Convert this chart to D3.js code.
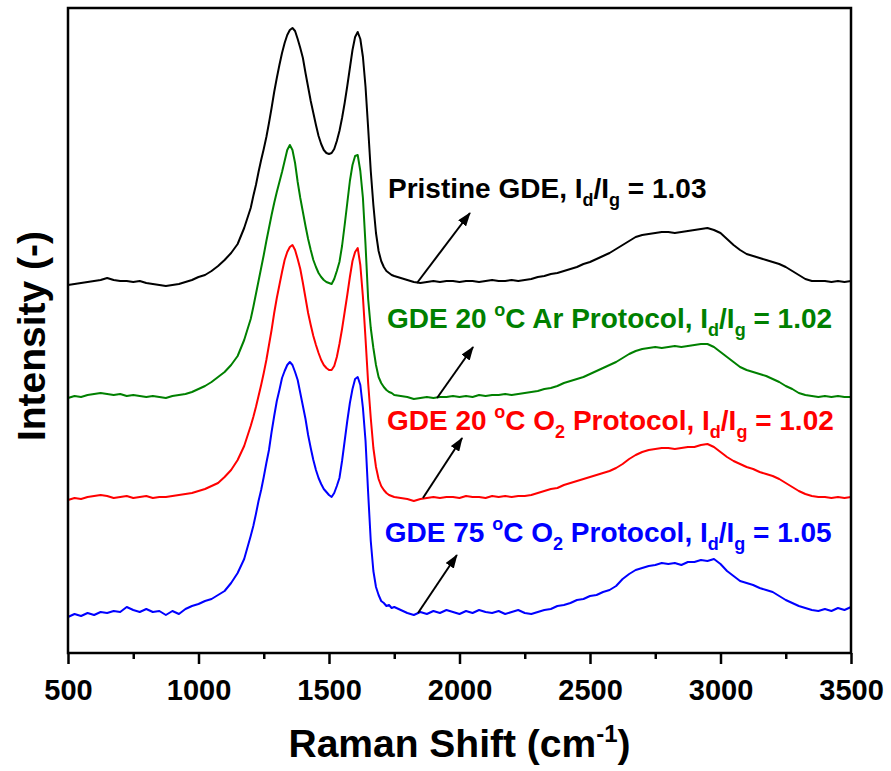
<!DOCTYPE html>
<html>
<head>
<meta charset="utf-8">
<script src="https://cdn.jsdelivr.net/npm/d3@7"></script>
<style>
  html, body { margin: 0; padding: 0; background: #fff; }
  svg { display: block; font-family: "Liberation Sans", Arial, sans-serif; }
  text { white-space: pre; }
</style>
</head>
<body>
<svg id="chart" width="891" height="771"></svg>
<script>
// Raman shift sampling positions (cm^-1), finer across the D and G bands
const wavenumber = [
  500,525,550,575,600,625,650,675,700,725,750,775,800,825,850,875,900,925,950,975,1000,1025,1050,1075,1100,1125,1150,1175,
  1200,1210,1220,1230,1240,1250,1260,1270,1280,1290,1300,1310,1320,1330,1340,1350,1360,1370,1380,1390,1400,1410,1420,1430,1440,1450,1460,1470,1480,1490,1500,
  1510,1520,1530,1540,1550,1560,1570,1580,1590,1600,1610,1620,1630,1640,1650,1660,1670,1680,1690,1700,1710,1720,1730,1740,1750,
  1775,1800,1825,1850,1875,1900,1925,1950,1975,2000,2025,2050,2075,2100,2125,2150,2175,2200,2225,2250,
  2275,2300,2325,2350,2375,2400,2425,2450,2475,2500,2525,2550,2575,2600,2625,2650,2675,2700,2725,2750,
  2775,2800,2825,2850,2875,2900,2925,2950,2975,3000,3025,3050,3075,3100,3125,3150,3175,3200,3225,3250,
  3275,3300,3325,3350,3375,3400,3425,3450,3475,3500
];

// Stacked intensities (a.u., offset for display)
const pristine = [
  368,369,370,371,372,373,375,373,372,372,371,372,370,369,368,367,368,369,371,373,376,378,382,387,393,400,409,425,
  445,457,468,481,493,504,516,530,545,561,575,588,600,610,618,623,625,622,614,605,595,580,566,552,540,528,517,509,503,500,499,
  500,504,512,522,535,550,567,585,603,616,621,614,596,566,525,482,448,420,402,392,386,382,380,378,377,
  375,373,371,370,371,372,371,372,372,371,372,372,371,372,373,372,372,373,372,373,
  374,376,377,379,380,382,384,386,389,391,394,397,400,404,408,412,416,418,419,420,
  421,421,420,421,422,423,424,425,423,420,414,408,403,399,397,395,393,391,389,386,
  382,378,374,372,372,372,371,372,371,372
];
const ar20 = [
  255,257,256,258,259,260,259,258,259,257,258,257,256,257,256,255,257,258,259,261,264,267,271,276,281,288,297,313,
  334,346,359,372,385,398,412,425,438,450,461,471,481,492,503,508,503,490,471,455,441,427,414,403,393,386,380,376,373,371,370,
  369,374,382,391,407,428,450,472,488,497,498,482,455,408,354,325,305,288,276,270,266,263,261,260,258,
  257,256,254,255,256,255,256,256,257,256,257,256,258,257,258,258,259,258,259,260,
  261,262,264,265,267,270,272,274,276,279,282,285,288,291,295,299,302,304,305,306,
  305,306,307,306,307,308,309,309,306,301,296,291,286,283,281,279,277,274,271,267,
  264,260,258,257,256,257,256,257,256,256
];
const o2_20 = [
  153,155,154,156,157,158,157,155,156,157,155,156,157,155,156,156,157,158,159,160,162,164,167,170,176,183,193,207,
  227,236,246,257,268,280,293,308,323,340,355,368,381,393,401,406,408,403,394,384,370,355,340,328,317,308,300,293,288,285,283,
  283,287,296,309,324,341,358,376,392,401,405,388,356,314,270,235,205,186,174,167,163,160,158,157,156,
  155,154,152,154,155,156,155,156,156,155,157,156,156,155,157,156,157,156,157,157,
  158,160,162,164,165,168,170,172,174,176,178,180,182,185,189,194,198,201,203,204,
  205,205,204,205,206,206,208,209,206,201,196,192,189,186,184,181,179,177,174,170,
  166,162,159,157,156,156,155,156,155,156
];
const o2_75 = [
  36,39,37,40,38,41,40,42,41,46,43,41,44,41,42,38,42,39,44,47,49,52,54,58,62,70,80,94,
  117,127,139,152,163,176,190,203,221,237,252,263,275,282,288,291,288,281,273,260,247,234,218,205,193,183,175,169,164,161,158,
  156,160,167,175,192,212,232,250,264,274,276,268,245,212,160,112,82,66,58,52,50,47,48,45,46,
  43,40,38,41,39,42,40,43,41,39,42,40,43,41,40,42,39,41,43,40,
  39,41,43,44,47,48,50,53,54,57,58,61,63,67,74,79,83,85,87,88,
  90,89,90,88,91,91,93,92,94,89,82,77,72,70,68,65,63,61,57,53,
  50,47,45,43,42,44,42,45,43,46
];

const seriesNames = ["Pristine GDE", "GDE 20 \u00B0C Ar Protocol", "GDE 20 \u00B0C O2 Protocol", "GDE 75 \u00B0C O2 Protocol"];
const seriesColors = ["#000000", "#008000", "#ff0000", "#0000ff"];
const ratioLabels = ["1.03", "1.02", "1.02", "1.05"];

const xTicks = [500, 1000, 1500, 2000, 2500, 3000, 3500];
const xMinorTicks = [750, 1250, 1750, 2250, 2750, 3250];

const series = [pristine, ar20, o2_20, o2_75];

// Layout
const W = 891, H = 771;
const plot = { left: 68, right: 851, top: 8, bottom: 653 };

const svg = d3.select("#chart");
const x = d3.scaleLinear().domain([500, 3500]).range([plot.left, plot.right]);
const y = d3.scaleLinear().domain([0, 645]).range([plot.bottom, plot.top]);

// Spectra
const line = d3.line()
  .x((d, i) => x(wavenumber[i]))
  .y(d => y(d))
  .curve(d3.curveLinear);

svg.append("g").attr("class", "spectra")
  .selectAll("path")
  .data(series)
  .join("path")
  .attr("d", d => line(d))
  .attr("fill", "none")
  .attr("stroke", (d, i) => seriesColors[i])
  .attr("stroke-width", 2)
  .attr("stroke-linejoin", "round");

// Frame
svg.append("rect")
  .attr("x", plot.left).attr("y", plot.top)
  .attr("width", plot.right - plot.left).attr("height", plot.bottom - plot.top)
  .attr("fill", "none").attr("stroke", "#000").attr("stroke-width", 2.5);

// Bottom axis: major ticks with labels, minor ticks without
const xAxis = svg.append("g")
  .attr("transform", `translate(0,${plot.bottom})`)
  .call(d3.axisBottom(x).tickValues(xTicks).tickSize(11).tickPadding(15).tickFormat(d3.format("d")));
xAxis.select(".domain").remove();
xAxis.selectAll("line").attr("stroke", "#000").attr("stroke-width", 2.5);
xAxis.selectAll("text")
  .attr("fill", "#000")
  .style("font-size", "29px").style("font-weight", "bold")
  .style("font-family", "'Liberation Sans', Arial, sans-serif");

const xMinor = svg.append("g")
  .attr("transform", `translate(0,${plot.bottom})`)
  .call(d3.axisBottom(x).tickValues(xMinorTicks).tickSize(6).tickFormat(""));
xMinor.select(".domain").remove();
xMinor.selectAll("line").attr("stroke", "#000").attr("stroke-width", 2.5);

// Axis titles
const xTitle = svg.append("text")
  .attr("x", (plot.left + plot.right) / 2).attr("y", 757)
  .attr("text-anchor", "middle")
  .style("font-size", "39px").style("font-weight", "bold");
xTitle.append("tspan").text("Raman Shift (cm");
xTitle.append("tspan").attr("dy", -15).style("font-size", "24px").text("-1");
xTitle.append("tspan").attr("dy", 15).text(")");

svg.append("text")
  .attr("transform", `translate(45,336) rotate(-90)`)
  .attr("text-anchor", "middle")
  .style("font-size", "39px").style("font-weight", "bold")
  .text("Intensity (-)");

// Annotations: label text position (cm^-1, a.u.) and arrow from trace to label
const annotations = [
  { lx: 1726, ly: 455, x0: 1837, y0: 370, x1: 2040, y1: 440, sub2: false, name: "Pristine GDE" },
  { lx: 1722, ly: 325, x0: 1914, y0: 255, x1: 2052, y1: 306, sub2: false, name: "GDE 20 |C Ar Protocol" },
  { lx: 1722, ly: 223, x0: 1860, y0: 155, x1: 2010, y1: 215, sub2: true,  name: "GDE 20 |C O|2| Protocol" },
  { lx: 1714, ly: 111, x0: 1841, y0: 40,  x1: 1990, y1: 98,  sub2: true,  name: "GDE 75 |C O|2| Protocol" }
];

const defs = svg.append("defs");
defs.append("marker")
  .attr("id", "head")
  .attr("viewBox", "0 0 14 10")
  .attr("refX", 13).attr("refY", 5)
  .attr("markerWidth", 14).attr("markerHeight", 10)
  .attr("markerUnits", "userSpaceOnUse")
  .attr("orient", "auto")
  .append("path").attr("d", "M0,0 L14,5 L0,10 Z").attr("fill", "#000");

const fs = 28, sfs = 18, sh = 8, up = 12;
annotations.forEach((a, i) => {
  svg.append("line")
    .attr("x1", x(a.x0)).attr("y1", y(a.y0))
    .attr("x2", x(a.x1)).attr("y2", y(a.y1))
    .attr("stroke", "#000").attr("stroke-width", 2)
    .attr("marker-end", "url(#head)");

  const t = svg.append("text")
    .attr("x", x(a.lx)).attr("y", y(a.ly))
    .attr("fill", seriesColors[i])
    .style("font-size", fs + "px").style("font-weight", "bold");

  // Name with degree superscript and O2 subscript
  const parts = a.name.split("|");
  t.append("tspan").text(parts[0]);
  if (parts.length > 1) {
    t.append("tspan").attr("dy", -up).style("font-size", sfs + "px").text("o");
    t.append("tspan").attr("dy", up).text(parts[1]);
    if (a.sub2) {
      t.append("tspan").attr("dy", sh).style("font-size", sfs + "px").text(parts[2]);
      t.append("tspan").attr("dy", -sh).text(parts[3]);
    }
  }
  t.append("tspan").text(", I");
  t.append("tspan").attr("dy", sh).style("font-size", sfs + "px").text("d");
  t.append("tspan").attr("dy", -sh).text("/I");
  t.append("tspan").attr("dy", sh).style("font-size", sfs + "px").text("g");
  t.append("tspan").attr("dy", -sh).text(" = " + ratioLabels[i]);
});
</script>
</body>
</html>
